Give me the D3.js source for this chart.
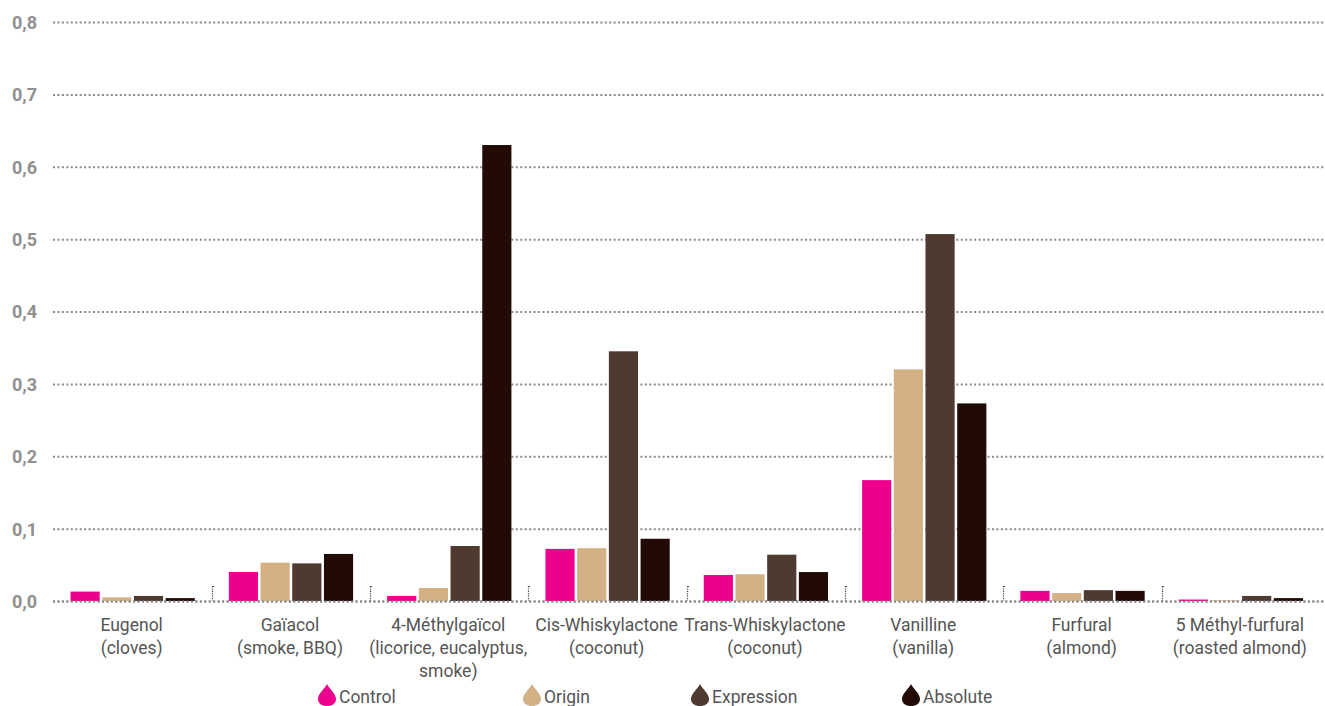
<!DOCTYPE html>
<html>
<head>
<meta charset="utf-8">
<script src="https://cdn.jsdelivr.net/npm/d3@7"></script>
<style>
  html, body { margin: 0; padding: 0; background: #fff; }
  svg { display: block; }
  text { font-family: Roboto, "Liberation Sans", sans-serif; }
</style>
</head>
<body>
<svg id="chart" width="1325" height="706"></svg>
<script>
// ---- data ----
const categories = [
  ["Eugenol", "(cloves)"],
  ["Gaïacol", "(smoke, BBQ)"],
  ["4-Méthylgaïcol", "(licorice, eucalyptus,", "smoke)"],
  ["Cis-Whiskylactone", "(coconut)"],
  ["Trans-Whiskylactone", "(coconut)"],
  ["Vanilline", "(vanilla)"],
  ["Furfural", "(almond)"],
  ["5 Méthyl-furfural", "(roasted almond)"]
];
const seriesNames = ["Control", "Origin", "Expression", "Absolute"];
const control    = [0.013, 0.040, 0.007, 0.072, 0.036, 0.167, 0.014, 0.002];
const origin     = [0.005, 0.053, 0.018, 0.073, 0.037, 0.320, 0.011, 0.001];
const expression = [0.007, 0.052, 0.076, 0.345, 0.064, 0.507, 0.015, 0.007];
const absolute   = [0.004, 0.065, 0.630, 0.086, 0.040, 0.273, 0.014, 0.004];
const yTicks = [0, 0.1, 0.2, 0.3, 0.4, 0.5, 0.6, 0.7, 0.8];

const colors = ["#ec008c", "#d3b185", "#4e3a30", "#220b05"];
const seriesValues = [control, origin, expression, absolute];

// ---- layout ----
const svg = d3.select("#chart");
const left = 53, right = 1325, plotRight = 1320;
const yTop = 22, yBottom = 601;

const y = d3.scaleLinear().domain([0, 0.8]).range([yBottom, yTop]);
const x0 = d3.scaleBand().domain(d3.range(categories.length))
  .range([53.5, plotRight]).paddingInner(0.215).paddingOuter(0.1075);
const x1 = d3.scaleBand().domain(d3.range(seriesNames.length))
  .range([0, x0.bandwidth()]).paddingInner(0.08);

// y axis labels
const fmt = v => d3.format(".1f")(v).replace(".", ",");
const yAxis = d3.axisLeft(y).tickValues(yTicks).tickFormat(fmt)
  .tickSize(0).tickPadding(0);
const gAxis = svg.append("g").attr("transform", `translate(37,0)`).call(yAxis);
gAxis.select(".domain").remove();
gAxis.selectAll("text")
  .attr("x", 0)
  .attr("dy", "0.36em")
  .style("font-family", "Roboto, 'Liberation Sans', sans-serif")
  .style("font-size", "18px")
  .style("font-weight", "bold")
  .attr("fill", "#909090");

// gridlines
svg.append("g").selectAll("line").data(yTicks).join("line")
  .attr("x1", left).attr("x2", right)
  .attr("y1", d => y(d) + 0.5).attr("y2", d => y(d) + 0.5)
  .attr("stroke", "#8a8a8a").attr("stroke-width", 2)
  .attr("stroke-dasharray", "2,2.45");

// bars
const groups = svg.append("g").selectAll("g").data(categories).join("g")
  .attr("transform", (d, i) => `translate(${x0(i)},0)`);
groups.selectAll("rect")
  .data((d, i) => seriesValues.map((s, k) => ({ k, v: s[i] })))
  .join("rect")
  .attr("x", d => x1(d.k))
  .attr("width", x1.bandwidth())
  .attr("y", d => y(d.v))
  .attr("height", d => y(0) - y(d.v))
  .attr("fill", d => colors[d.k]);

// baseline dots on top of bars
svg.append("line")
  .attr("x1", left).attr("x2", right)
  .attr("y1", y(0) + 0.5).attr("y2", y(0) + 0.5)
  .attr("stroke", "#8a8a8a").attr("stroke-width", 2)
  .attr("stroke-dasharray", "2,2.45");

// separators
const step = x0.step();
const sepX = i => Math.round(x0(i) - step * x0.paddingInner() / 2) + 0.5;
const seps = svg.append("g").selectAll("g").data(d3.range(1, categories.length)).join("g");
seps.append("line")
  .attr("x1", sepX).attr("x2", sepX)
  .attr("y1", y(0) - 15).attr("y2", y(0))
  .attr("stroke", "#444").attr("stroke-width", 1.2)
  .attr("stroke-dasharray", "1.2,1.2");
seps.append("line")
  .attr("x1", i => sepX(i) - 0.5).attr("x2", i => sepX(i) + 1.5)
  .attr("y1", y(0) - 14.5).attr("y2", y(0) - 14.5)
  .attr("stroke", "#444").attr("stroke-width", 1);

// category labels
const labels = svg.append("g").selectAll("text").data(categories).join("text")
  .attr("text-anchor", "middle")
  .attr("font-size", "17.5px")
  .attr("fill", "#555");
labels.each(function (d, i) {
  const t = d3.select(this);
  d.forEach((line, j) => {
    t.append("tspan")
      .attr("x", x0(i) + x0.bandwidth() / 2 - 1)
      .attr("y", 631 + j * 23)
      .text(line);
  });
});

// legend
const legendX = [318, 523, 691, 902];
const drop = "M0,-11 C2,-6.5 9,-1.5 9,4 C9,8.5 5,11 0,11 C-5,11 -9,8.5 -9,4 C-9,-1.5 -2,-6.5 0,-11 Z";
const leg = svg.append("g").selectAll("g").data(seriesNames).join("g")
  .attr("transform", (d, i) => `translate(${legendX[i]},0)`);
leg.append("path").attr("d", drop)
  .attr("transform", "translate(9,695)")
  .attr("fill", (d, i) => colors[i]);
leg.append("text")
  .attr("x", 21).attr("y", 703)
  .attr("font-size", "17.5px")
  .attr("fill", "#555")
  .text(d => d);
</script>
</body>
</html>
